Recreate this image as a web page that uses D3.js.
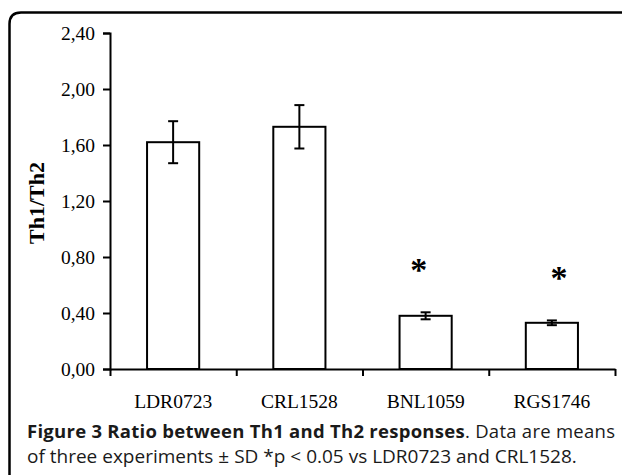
<!DOCTYPE html>
<html>
<head>
<meta charset="utf-8">
<script src="https://cdn.jsdelivr.net/npm/d3@7"></script>
<style>
  body { margin: 0; background: #fff; }
  svg { display: block; }
</style>
</head>
<body>
<div id="chart"></div>
<script>
// data
var strains = ["LDR0723", "CRL1528", "BNL1059", "RGS1746"];
var ratio = [1.62, 1.73, 0.38, 0.33];
var sd = [0.15, 0.155, 0.025, 0.017];
var signif = [false, false, true, true];
var yTicks = [0, 0.4, 0.8, 1.2, 1.6, 2.0, 2.4];

var svgWidth = 622;
var svgHeight = 475;

// plot area
var margin = { top: 33, left: 110, right: 7, bottom: 106 };
var chartWidth = svgWidth - margin.left - margin.right;
var chartHeight = svgHeight - margin.top - margin.bottom;

var svg = d3.select("#chart").append("svg")
  .attr("width", svgWidth)
  .attr("height", svgHeight);

// frame with rounded top-left corner
svg.append("path")
  .attr("d", "M9.5,475 L9.5,24 Q9.5,12.5 21,12.5 L622,12.5")
  .attr("fill", "none")
  .attr("stroke", "#000")
  .attr("stroke-width", 2.5);

var chartGroup = svg.append("g")
  .attr("transform", `translate(${margin.left}, ${margin.top})`);

var x = d3.scaleBand()
  .domain(strains)
  .range([0, chartWidth])
  .paddingInner(0.587)
  .paddingOuter(0.2935);

var y = d3.scaleLinear()
  .domain([0, 2.4])
  .range([chartHeight, 0]);

// boundary ticks between categories
var xEdges = d3.scaleLinear().domain([0, strains.length]).range([0, chartWidth]);

var fmt = function(d) { return d3.format(".2f")(d).replace(".", ","); };

var leftAxis = d3.axisLeft(y).tickValues(yTicks).tickFormat(fmt).tickSize(7).tickPadding(8);
var yAxis = chartGroup.append("g").call(leftAxis);

var bottomAxis = d3.axisBottom(xEdges).tickValues(d3.range(strains.length + 1)).tickFormat("").tickSize(7).tickSizeOuter(0);
var xAxis = chartGroup.append("g")
  .attr("transform", `translate(0, ${chartHeight})`)
  .call(bottomAxis);

var labelAxis = d3.axisBottom(x).tickSize(0).tickPadding(25);
var xLabels = chartGroup.append("g")
  .attr("transform", `translate(0, ${chartHeight})`)
  .call(labelAxis);
xLabels.select(".domain").remove();

[yAxis, xAxis, xLabels].forEach(function(g) {
  g.selectAll(".domain").attr("stroke", "#000").attr("stroke-width", 2);
  g.selectAll(".tick line").attr("stroke", "#000").attr("stroke-width", 2);
  g.selectAll("text")
    .attr("font-family", "'Liberation Serif', 'Times New Roman', serif")
    .attr("font-size", "19.5px")
    .attr("fill", "#000");
});

// bars
chartGroup.selectAll(".bar")
  .data(strains)
  .enter()
  .append("rect")
  .attr("class", "bar")
  .attr("x", d => x(d))
  .attr("y", (d, i) => y(ratio[i]))
  .attr("width", x.bandwidth())
  .attr("height", (d, i) => chartHeight - y(ratio[i]))
  .attr("fill", "#fff")
  .attr("stroke", "#000")
  .attr("stroke-width", 2);

// error bars
var err = chartGroup.selectAll(".err")
  .data(strains)
  .enter()
  .append("g")
  .attr("class", "err")
  .attr("transform", d => `translate(${x(d) + x.bandwidth() / 2}, 0)`)
  .attr("stroke", "#000")
  .attr("stroke-width", 2);

err.append("line")
  .attr("y1", (d, i) => y(ratio[i] + sd[i]))
  .attr("y2", (d, i) => y(ratio[i] - sd[i]));
err.append("line")
  .attr("x1", -5).attr("x2", 5)
  .attr("y1", (d, i) => y(ratio[i] + sd[i]))
  .attr("y2", (d, i) => y(ratio[i] + sd[i]));
err.append("line")
  .attr("x1", -5).attr("x2", 5)
  .attr("y1", (d, i) => y(ratio[i] - sd[i]))
  .attr("y2", (d, i) => y(ratio[i] - sd[i]));

// asterisks (nudged a little sideways like in the figure)
var starNudge = [0, 0, -7, 7];
chartGroup.selectAll(".star")
  .data(strains.filter((d, i) => signif[i]))
  .enter()
  .append("text")
  .attr("class", "star")
  .attr("x", d => x(d) + x.bandwidth() / 2 + starNudge[strains.indexOf(d)])
  .attr("y", d => { var i = strains.indexOf(d); return y(ratio[i] + sd[i]) - 46 + 15; })
  .attr("text-anchor", "middle")
  .attr("font-family", "'Liberation Serif', serif")
  .attr("font-weight", "bold")
  .attr("font-size", "34px")
  .attr("fill", "#000")
  .text("*");

// y axis title
chartGroup.append("text")
  .attr("transform", "rotate(-90)")
  .attr("x", -(203 - margin.top))
  .attr("y", 37 - margin.left + 7)
  .attr("text-anchor", "middle")
  .attr("font-family", "'Liberation Serif', 'Times New Roman', serif")
  .attr("font-weight", "bold")
  .attr("font-size", "22px")
  .attr("fill", "#000")
  .text("Th1/Th2");

// caption
var cap1 = svg.append("text")
  .attr("x", 27)
  .attr("y", 438)
  .attr("font-family", "'Open Sans', 'Noto Sans', sans-serif")
  .attr("font-size", "18.5px")
  .attr("fill", "#1a1a1a")
  .attr("textLength", 588)
  .attr("lengthAdjust", "spacing");
cap1.append("tspan").attr("font-weight", "bold").text("Figure 3 Ratio between Th1 and Th2 responses");
cap1.append("tspan").text(". Data are means");

svg.append("text")
  .attr("x", 27)
  .attr("y", 463)
  .attr("font-family", "'Open Sans', 'Noto Sans', sans-serif")
  .attr("font-size", "19px")
  .attr("fill", "#1a1a1a")
  .text("of three experiments \u00b1 SD *p < 0.05 vs LDR0723 and CRL1528.");
</script>
</body>
</html>
